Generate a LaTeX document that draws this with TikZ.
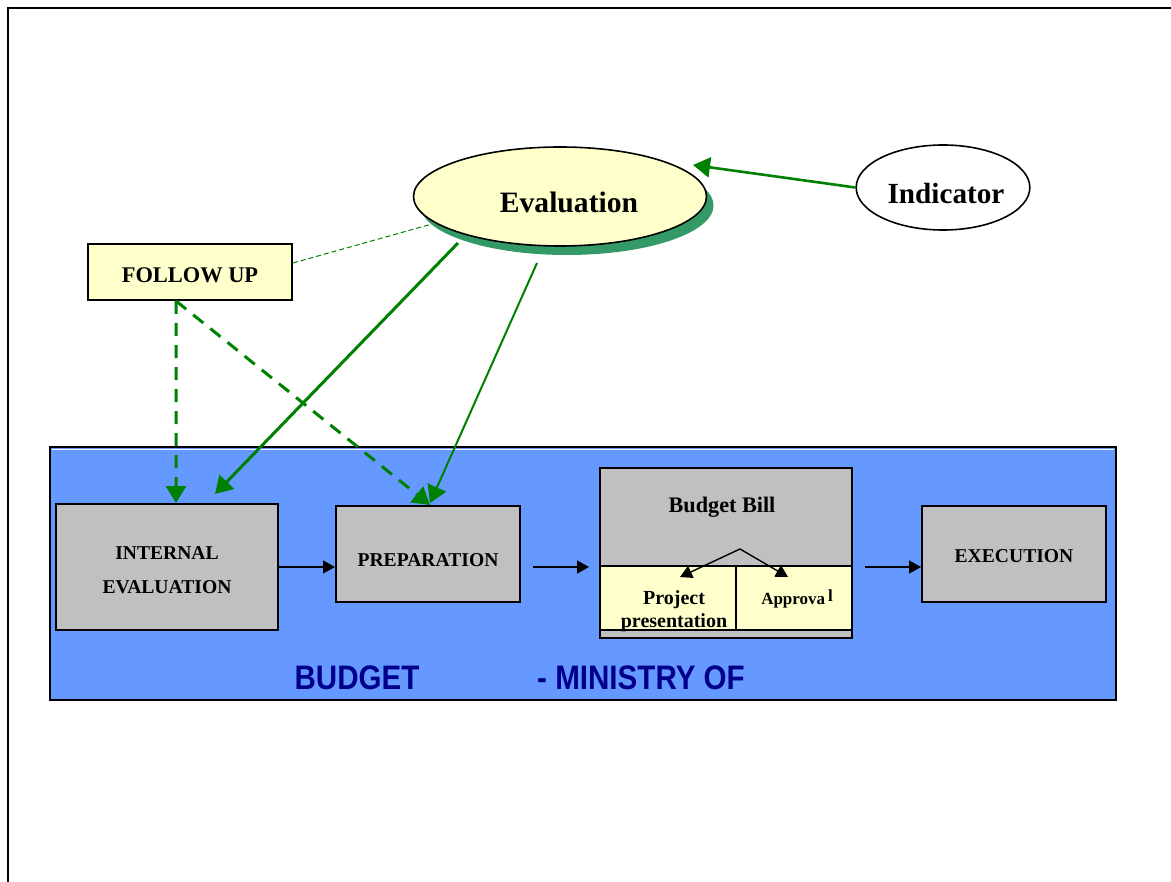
\documentclass[tikz,border=0pt]{standalone}
\usepackage{fontspec}
\setmainfont{Liberation Serif}
\newfontfamily\bannerfont[FakeStretch=0.87]{Liberation Sans}
\usetikzlibrary{positioning, shapes, arrows.meta, shadows}
\definecolor{panelblue}{RGB}{102,153,255}
\definecolor{boxgray}{RGB}{192,192,192}
\definecolor{noteyellow}{RGB}{255,255,204}
\definecolor{flowgreen}{RGB}{0,128,0}
\definecolor{shadowgreen}{RGB}{51,153,102}
\definecolor{bannerblue}{RGB}{0,0,140}

\tikzset{
    stagebox/.style={rectangle, draw, line width=1pt, fill=boxgray, align=center, inner sep=0pt, font=\bfseries\fontsize{9.8}{17}\selectfont},
    cellbox/.style={rectangle, draw, line width=1pt, fill=noteyellow, inner sep=0pt},
    flow/.style={-{Triangle[length=6pt,width=6.5pt]}, line width=0.85pt},
    greenflow/.style={-{Triangle[length=8.5pt,width=10pt]}, draw=flowgreen},
    greendash/.style={greenflow, line width=1.5pt, dash pattern=on 6.5pt off 4.5pt},
    bannertext/.style={text=bannerblue, font=\bannerfont\bfseries\fontsize{17}{17}\selectfont}
}

\begin{document}
\begin{tikzpicture}[x=50pt,y=50pt]
        \useasboundingbox (0,0) rectangle (11.71,-8.82);
        \draw[line width=1pt] (0.08,-8.82) -- (0.08,-0.08) -- (11.71,-0.08);

        % budget panel
        \draw[fill=panelblue, line width=1pt] (0.50,-4.47) rectangle (11.16,-7.00);
        \draw[white, line width=0.6pt] (0.52,-4.495) -- (11.14,-4.495);

        \node at (5.60,-1.965) [ellipse, draw, line width=0.8pt, fill=noteyellow, inner sep=0pt, minimum width=146.5pt, minimum height=49.5pt, text height=16pt, text depth=0pt, drop shadow={shadow xshift=3.5pt, shadow yshift=-4.5pt, fill=shadowgreen, opacity=1}, font=\bfseries\fontsize{14.8}{17}\selectfont] (eval) {\hspace{9pt}Evaluation};
        \node at (9.43,-1.875) [ellipse, draw, line width=0.8pt, fill=white, inner sep=0pt, minimum width=85pt, minimum height=42.5pt, text height=15.9pt, text depth=0pt, font=\bfseries\fontsize{14.6}{17}\selectfont] (indicator) {\hspace{3pt}Indicator};
        \node at (1.90,-2.72) [rectangle, draw, line width=1pt, fill=noteyellow, minimum width=102pt, minimum height=28pt, text height=10.4pt, text depth=0pt, font=\bfseries\fontsize{11.2}{13}\selectfont] (followup) {FOLLOW UP};

        \node at (1.67,-5.67) [stagebox, minimum width=111pt, minimum height=63pt] (internal) {\rule{0pt}{10pt}INTERNAL\\EVALUATION};
        \node at (4.28,-5.54) [stagebox, minimum width=92pt, minimum height=48pt, text height=12.5pt, text depth=0pt] (prep) {PREPARATION};

        \node at (7.26,-5.53) [stagebox, minimum width=126pt, minimum height=85pt] (bill) {};
        \node at (7.22,-5.07) [font=\bfseries\fontsize{11.1}{13}\selectfont] (bill_title) {Budget Bill};
        \node at (6.68,-5.98) [cellbox, minimum width=68pt, minimum height=32pt] (bill_project) {};
        \node at (7.94,-5.98) [cellbox, minimum width=58pt, minimum height=32pt] (bill_approval) {};
        \node at (6.74,-6.115) [align=center, inner sep=0pt, font=\bfseries\fontsize{10}{11.5}\selectfont] (project_text) {Project\\presentation};
        \node at (7.97,-5.99) [inner sep=0pt, font=\bfseries\fontsize{8.5}{10}\selectfont] (approval_text) {Approva\,\raisebox{1.2pt}{l}};

        \node at (10.14,-5.54) [stagebox, minimum width=92pt, minimum height=48pt, text height=8.5pt, text depth=0pt] (exec) {EXECUTION};

        \node at (3.57,-6.78) [bannertext] (banner_budget) {BUDGET};
        \node at (6.41,-6.78) [bannertext] (banner_ministry) {- MINISTRY OF};

        \coordinate (bill_split) at (7.40,-5.49);
        \coordinate (bill_left) at (6.80,-5.77);
        \coordinate (bill_right) at (7.88,-5.77);
        \coordinate (eval_in) at (6.93,-1.65);
        \coordinate (follow_in) at (4.32,-2.24);
        \coordinate (eval_a) at (4.58,-2.43);
        \coordinate (eval_b) at (5.37,-2.63);

        \draw   (internal.east)             edge[flow]                                  (internal.east -| prep.west)
                (prep.east |- internal.east) edge[flow, shorten <=6pt, shorten >=5pt]   (bill.west |- internal.east)
                (bill.east |- internal.east) edge[flow, shorten <=6pt]                  (exec.west |- internal.east)
                (bill_split)                edge[flow, line width=0.7pt]                (bill_left)
                (bill_split)                edge[flow, line width=0.7pt]                (bill_right)
            ;

        \draw   (indicator.west)            edge[greenflow, line width=1.3pt]           (eval_in)
                (followup.5)                edge[draw=flowgreen, line width=0.5pt, dash pattern=on 2.5pt off 1.5pt] (follow_in)
                ([xshift=-7pt]followup.south) edge[greendash]                           ([xshift=4.5pt]internal.north)
                ([xshift=-7pt]followup.south) edge[greendash]                           ([xshift=1pt]prep.north)
                (eval_a)                    edge[greenflow, line width=1.5pt]           ([xshift=24pt,yshift=4.5pt]internal.north)
                (eval_b)                    edge[greenflow, line width=1pt]             ([xshift=1pt,yshift=1pt]prep.north)
            ;

    \end{tikzpicture}
\end{document}
